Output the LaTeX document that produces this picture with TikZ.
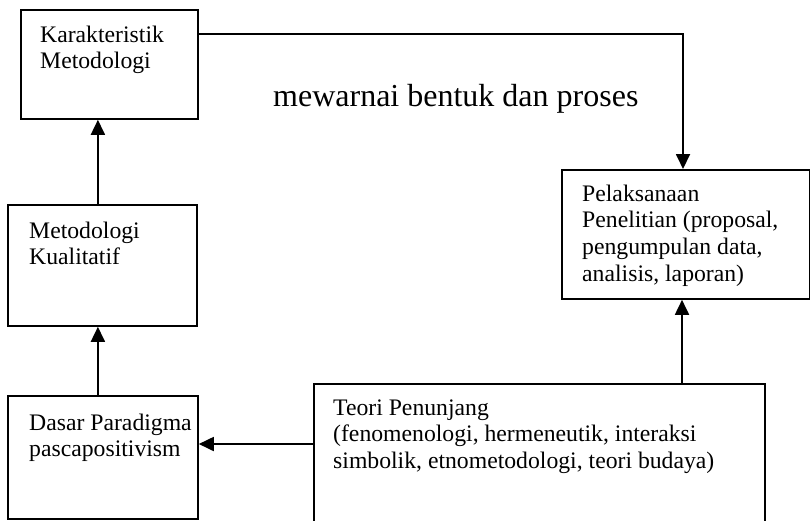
\documentclass[tikz,border=0pt]{standalone}
\usepackage{fontspec}
\setmainfont{Liberation Serif}
\usetikzlibrary{arrows.meta}

\begin{document}
\begin{tikzpicture}[x=1pt, y=-1pt,
  box/.style={draw, line width=1.8pt, rectangle, inner sep=0pt, anchor=north west},
  % multi-line labels are placed by the baseline of their last line
  label/.style={inner sep=0pt, anchor=base west, align=left,
    font=\fontsize{23.7}{26.7}\selectfont},
  arr/.style={line width=1.8pt, -{Triangle[length=15pt, width=14pt]}}]

\useasboundingbox (0,0) rectangle (810,520);
\clip (0,0) rectangle (810,520);

% boxes
\node[box, minimum width=177pt, minimum height=109pt] (karak) at (20,9) {};
\node[box, minimum width=189pt, minimum height=121pt] (kual)  at (7,204) {};
\node[box, minimum width=190pt, minimum height=123pt] (dasar) at (7,395) {};
\node[box, minimum width=451pt, minimum height=160pt] (teori) at (313,383) {};
\node[box, minimum width=247.5pt, minimum height=129pt] (pelak) at (561,169) {};

% box texts
\node[label] (karakT) at (40,68.7)  {Karakteristik\\Metodologi};
\node[label] (kualT)  at (29,264.7) {Metodologi\\Kualitatif};
\node[label] (dasarT) at (29,456.7) {Dasar Paradigma\\pascapositivism};
\node[label] (teoriT) at (333,468.4) {Teori Penunjang\\(fenomenologi, hermeneutik, interaksi\\simbolik, etnometodologi, teori budaya)};
\node[label] (pelakT) at (582,281.1) {Pelaksanaan\\Penelitian (proposal,\\pengumpulan data,\\analisis, laporan)};

% free label between the boxes
\node[inner sep=0pt, anchor=base west, font=\fontsize{32}{36}\selectfont] (warna) at (273,106) {mewarnai bentuk dan proses};

% connectors
\draw[arr] ([xshift=-4.5pt]kual.north) -- ([xshift=-4.5pt]kual.north |- karak.south);
\draw[arr] ([xshift=-5pt]dasar.north) -- ([xshift=-5pt]dasar.north |- kual.south);
\draw[arr] ([yshift=-61pt]teori.north west) -- ([yshift=-61pt]teori.north west -| dasar.east);
\draw[arr] ([xshift=369pt]teori.north west) -- ([xshift=369pt]teori.north west |- pelak.south);
\draw[arr] ([yshift=-25pt]karak.north east) -| ([xshift=122pt]pelak.north west);

\end{tikzpicture}
\end{document}
